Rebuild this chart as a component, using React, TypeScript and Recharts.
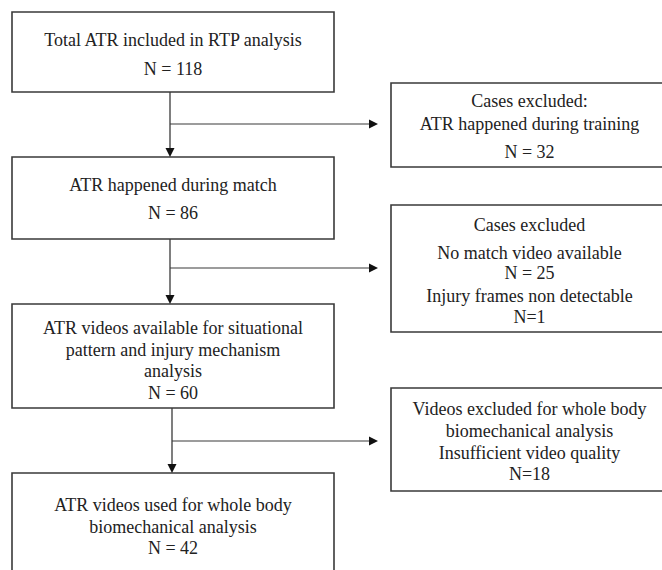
import React from "react";
import { ComposedChart, XAxis, YAxis, ReferenceArea, ReferenceLine, Scatter } from "recharts";

document.body.style.margin = "0";

// box texts
const mainLines = [
  ["Total ATR included in RTP analysis"],
  ["ATR happened during match"],
  ["ATR videos available for situational", "pattern and injury mechanism", "analysis"],
  ["ATR videos used for whole body", "biomechanical analysis"],
];
const mainCounts = [118, 86, 60, 42];
const excludedLines = [
  ["Cases excluded:", "ATR happened during training", "N = 32"],
  ["Cases excluded", "No match video available", "N = 25", "Injury frames non detectable", "N=1"],
  ["Videos excluded for whole body", "biomechanical analysis", "Insufficient video quality", "N=18"],
];

// layout, in chart units (domain 0..662 x 0..570)
const mainX = [12, 334];
const mainY = [[12, 92], [157, 239], [304, 408], [473, 590]];
const mainOffsets = [[28, 57], [28, 56], [24, 46, 67, 89], [32, 54, 75]];
const sideX = [391, 668];
const sideY = [[83, 167], [205, 332], [388, 491]];
const sideOffsets = [[18, 41, 69], [20, 48, 68, 91, 112], [21, 43, 65, 86]];
const stemX = [170, 170, 172];
const branchY = [124, 268, 441];
const arrowTipX = 378;

const LINE = "#3a3a3a";
const TEXT = "#222";
const FONT = "'Liberation Serif', 'Times New Roman', serif";

const heads = [
  ...stemX.map((x, i) => ({ x, y: mainY[i + 1][0], dir: "down" })),
  ...branchY.map((y) => ({ x: arrowTipX, y, dir: "right" })),
];

function BoxText({ viewBox, lines, offsets }: any) {
  if (!viewBox) return null;
  const cx = viewBox.x + viewBox.width / 2;
  return (
    <text textAnchor="middle" fontFamily={FONT} fontSize={18} fill={TEXT}>
      {lines.map((t: string, i: number) => (
        <tspan key={i} x={cx} y={viewBox.y + offsets[i]} dominantBaseline="central">{t}</tspan>
      ))}
    </text>
  );
}

function ArrowHead({ cx, cy, payload }: any) {
  const pts = payload.dir === "down"
    ? `${cx - 4.5},${cy - 9} ${cx + 4.5},${cy - 9} ${cx},${cy}`
    : `${cx - 9},${cy - 4.5} ${cx - 9},${cy + 4.5} ${cx},${cy}`;
  return <polygon points={pts} fill="#111" />;
}

export default function App() {
  return (
    <ComposedChart width={662} height={570} margin={{ top: 0, right: 0, bottom: 0, left: 0 }} style={{ background: "#fff" }}>
      <XAxis type="number" dataKey="x" domain={[0, 662]} hide allowDataOverflow />
      <YAxis type="number" dataKey="y" domain={[0, 570]} reversed hide allowDataOverflow />
      {stemX.map((x, i) => (
        <ReferenceLine key={"s" + i} segment={[{ x, y: mainY[i][1] }, { x, y: mainY[i + 1][0] - 6 }]} stroke={LINE} strokeWidth={1.3} ifOverflow="visible" />
      ))}
      {branchY.map((y, i) => (
        <ReferenceLine key={"b" + i} segment={[{ x: stemX[i], y }, { x: arrowTipX - 6, y }]} stroke={LINE} strokeWidth={1.1} ifOverflow="visible" />
      ))}
      {mainY.map(([y1, y2], i) => (
        <ReferenceArea key={"m" + i} x1={mainX[0]} x2={mainX[1]} y1={y1} y2={y2} fill="#fff" fillOpacity={1} stroke={LINE} strokeWidth={1.6} ifOverflow="visible"
          label={(p: any) => <BoxText viewBox={p.viewBox} lines={[...mainLines[i], `N = ${mainCounts[i]}`]} offsets={mainOffsets[i]} />} />
      ))}
      {sideY.map(([y1, y2], i) => (
        <ReferenceArea key={"e" + i} x1={sideX[0]} x2={sideX[1]} y1={y1} y2={y2} fill="#fff" fillOpacity={1} stroke={LINE} strokeWidth={1.6} ifOverflow="visible"
          label={(p: any) => <BoxText viewBox={p.viewBox} lines={excludedLines[i]} offsets={sideOffsets[i]} />} />
      ))}
      <Scatter data={heads} dataKey="y" shape={<ArrowHead />} isAnimationActive={false} />
    </ComposedChart>
  );
}
